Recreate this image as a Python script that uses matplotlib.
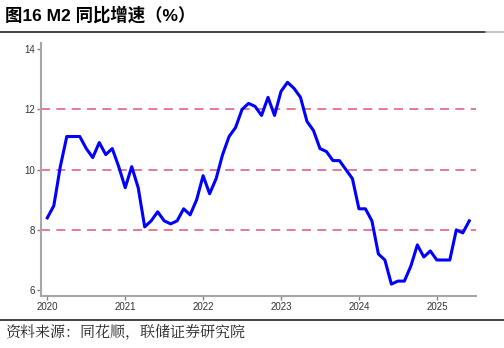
import matplotlib
matplotlib.use("Agg")
import matplotlib.pyplot as plt
import numpy as np

plt.rcParams["font.family"] = ["Liberation Sans", "Noto Sans CJK SC", "DejaVu Sans"]

# M2 year-on-year growth, monthly, Jan 2020 - Jun 2025 (%)
m2_yoy = [
    8.4, 8.8, 10.1, 11.1, 11.1, 11.1, 10.7, 10.4, 10.9, 10.5, 10.7, 10.1,
    9.4, 10.1, 9.4, 8.1, 8.3, 8.6, 8.3, 8.2, 8.3, 8.7, 8.5, 9.0,
    9.8, 9.2, 9.7, 10.5, 11.1, 11.4, 12.0, 12.2, 12.1, 11.8, 12.4, 11.8,
    12.6, 12.9, 12.7, 12.4, 11.6, 11.3, 10.7, 10.6, 10.3, 10.3, 10.0, 9.7,
    8.7, 8.7, 8.3, 7.2, 7.0, 6.2, 6.3, 6.3, 6.8, 7.5, 7.1, 7.3,
    7.0, 7.0, 7.0, 8.0, 7.9, 8.3,
]
year_labels = ["2020", "2021", "2022", "2023", "2024", "2025"]
y_ticks = [6, 8, 10, 12, 14]
ref_levels = [8, 10, 12]

months = np.arange(len(m2_yoy))

fig = plt.figure(figsize=(5.04, 3.48), dpi=100)
ax = fig.add_axes([0.081, 0.149, 0.863, 0.727])

for lvl in ref_levels:
    ax.axhline(lvl, color="#E0708F", linestyle=(0, (5, 3.5)), linewidth=1.3, zorder=1)
ax.plot(months, m2_yoy, color="#0000FF", linewidth=2.2, zorder=3)

ax.set_xlim(-1, 66)
ax.set_ylim(5.8, 14.2)
ax.set_xticks(np.arange(len(year_labels)) * 12)
ax.set_xticklabels(year_labels)
ax.set_yticks(y_ticks)

for side in ("top", "right"):
    ax.spines[side].set_visible(False)
for side in ("left", "bottom"):
    ax.spines[side].set_color("#A6A6A6")
    ax.spines[side].set_linewidth(1.5)
ax.tick_params(axis="both", colors="#808080", labelcolor="#333333",
               labelsize=7, length=3, width=1, pad=1.5)

fig.text(0.01, 0.958, "图16 M2 同比增速（%）", fontsize=12.5, fontweight="bold",
         family=["Liberation Sans", "Noto Sans CJK SC", "DejaVu Sans"],
         va="center", ha="left")
fig.add_artist(plt.Line2D([0.0, 0.965], [0.909, 0.909], color="#222222", linewidth=1.2))
fig.add_artist(plt.Line2D([0.965, 1.0], [0.909, 0.909], color="#BBBBBB", linewidth=1.2))
fig.add_artist(plt.Line2D([0.0, 1.0], [0.080, 0.080], color="#222222", linewidth=1.2))
fig.text(0.01, 0.043, "资料来源：同花顺，联储证券研究院", fontsize=10.8,
         family=["Noto Serif CJK SC", "Noto Sans CJK SC", "DejaVu Sans"],
         color="#222222", va="center", ha="left")

fig.savefig("out.png", dpi=100)
